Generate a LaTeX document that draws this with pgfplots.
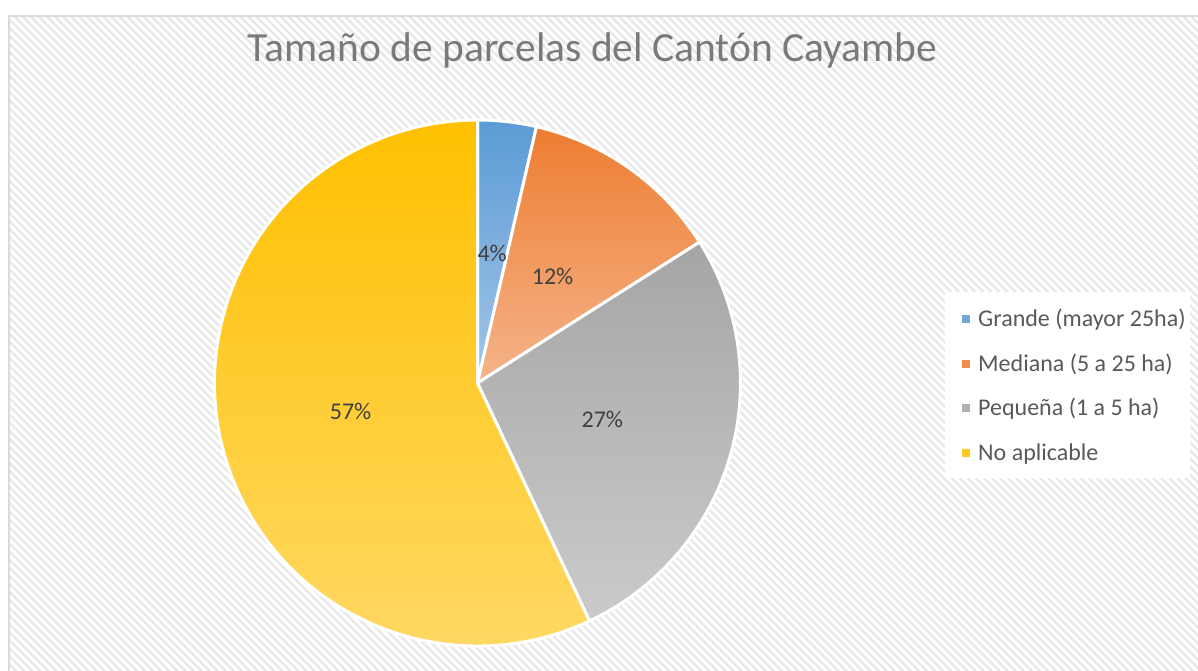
\documentclass[border=0pt]{standalone}
\usepackage{pgfplots}
\pgfplotsset{compat=1.18}
\usepackage{pgfplotstable}
\usepackage{fontspec}
\setmainfont{Carlito}
\usetikzlibrary{patterns.meta}

\definecolor{cAt}{HTML}{5B9BD5}\definecolor{cAb}{HTML}{A3C6E8}
\definecolor{cBt}{HTML}{ED7D31}\definecolor{cBb}{HTML}{F5B48A}
\definecolor{cCt}{HTML}{A5A5A5}\definecolor{cCb}{HTML}{CBCBCB}
\definecolor{cDt}{HTML}{FFC000}\definecolor{cDb}{HTML}{FFDA6A}
\definecolor{titlegray}{HTML}{7A7A7A}
\definecolor{leggray}{HTML}{595959}
\definecolor{labgray}{HTML}{404040}
\definecolor{hatch}{HTML}{E8E8E8}
\definecolor{framegray}{HTML}{D9D9D9}

\pgfplotstableread{
val name
3.6  {Grande (mayor 25ha)}
12.4 {Mediana (5 a 25 ha)}
27.0 {Pequeña (1 a 5 ha)}
57.0 {No aplicable}
}\pietable

\newcommand\getval[1]{\pgfplotstablegetelem{#1}{val}\of\pietable\pgfmathsetmacro\tmpv{\pgfplotsretval}}

\getval{0}\pgfmathsetmacro\saA{90}\pgfmathsetmacro\eaA{\saA-3.6*\tmpv}\pgfmathsetmacro\maA{(\saA+\eaA)/2}\let\vA\tmpv
\getval{1}\pgfmathsetmacro\saB{\eaA}\pgfmathsetmacro\eaB{\saB-3.6*\tmpv}\pgfmathsetmacro\maB{(\saB+\eaB)/2}\let\vB\tmpv
\getval{2}\pgfmathsetmacro\saC{\eaB}\pgfmathsetmacro\eaC{\saC-3.6*\tmpv}\pgfmathsetmacro\maC{(\saC+\eaC)/2}\let\vC\tmpv
\getval{3}\pgfmathsetmacro\saD{\eaC}\pgfmathsetmacro\eaD{\saD-3.6*\tmpv}\pgfmathsetmacro\maD{(\saD+\eaD)/2}\let\vD\tmpv

\newcommand\slice[1]{%
  \path[draw=white, line width=3pt, line join=round, top color=c#1t, bottom color=c#1b]
    (axis cs:477.5,288) -- ++(\csname sa#1\endcsname:263pt)
    arc[start angle=\csname sa#1\endcsname, end angle=\csname ea#1\endcsname, radius=263pt] -- cycle;}
\newcommand\plabel[1]{%
  \path (axis cs:477.5,288) ++(\csname ma#1\endcsname:130pt)
    node[font=\fontsize{24}{29}\selectfont, text=labgray]
    {\pgfmathprintnumber[fixed,precision=0,assume math mode=true]{\csname v#1\endcsname}\%};}
\newcommand\legentry[3]{%
  \fill[c#1t!70!c#1b] (axis cs:962,#2-4) rectangle (axis cs:970,#2+4);
  \node[anchor=base west, font=\fontsize{24}{29}\selectfont, text=leggray, inner sep=0pt]
    at (axis cs:978,#2-7.5) {#3};}

\begin{document}%
\begin{tikzpicture}
\begin{axis}[
  x=1pt, y=1pt,
  xmin=0, xmax=1198, ymin=0, ymax=671,
  hide axis, clip=false, enlargelimits=false,
]
\coordinate (bl) at (axis cs:0,0);
\coordinate (tr) at (axis cs:1198,671);
\fill[white] (axis cs:0,0) rectangle (axis cs:1198,671);
\fill[pattern={Lines[angle=-45,distance=5.7pt,line width=2.4pt]}, pattern color=hatch]
  (axis cs:9,0) rectangle (axis cs:1198,655);
\draw[framegray, line width=2pt] (axis cs:9,0) -- (axis cs:9,655) -- (axis cs:1198,655);

\node[anchor=base, font=\fontsize{41.5}{50}\selectfont, text=titlegray]
  at (axis cs:592.5,609) {Tamaño de parcelas del Cantón Cayambe};

\slice{A}\slice{B}\slice{C}\slice{D}
\plabel{A}\plabel{B}\plabel{C}\plabel{D}

\fill[white] (axis cs:945,193) rectangle (axis cs:1190,379);
\legentry{A}{352}{Grande (mayor 25ha)}
\legentry{B}{307}{Mediana (5 a 25 ha)}
\legentry{C}{263}{Pequeña (1 a 5 ha)}
\legentry{D}{218}{No aplicable}
\end{axis}
\pgfresetboundingbox
\useasboundingbox (bl) rectangle (tr);
\end{tikzpicture}%
\end{document}
